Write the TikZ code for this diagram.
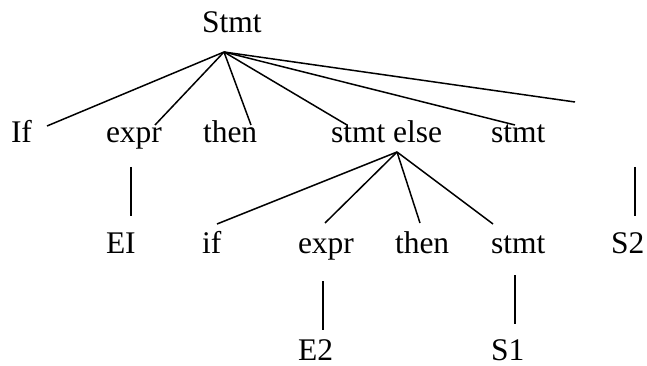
\documentclass[tikz,border=0pt]{standalone}
\usepackage{fontspec}
\setmainfont{Liberation Serif}
\begin{document}
\begin{tikzpicture}[x=1pt,y=-1pt,
  lbl/.style={anchor=base west,inner sep=0pt,outer sep=0pt,font=\fontsize{31.5}{36}\selectfont},
  edge/.style={line width=1.5pt,black}]
\useasboundingbox (0,0) rectangle (647,366);
% labels
\node[lbl] (root) at (202,33) {Stmt};
\node[lbl] (If) at (11,143) {If};
\node[lbl] (expr1) at (106,143) {expr};
\node[lbl] (then1) at (203,143) {then};
\node[lbl] (stmtelse) at (331,143) {stmt else};
\node[lbl] (stmt2) at (491,143) {stmt};
\node[lbl] (EI) at (106,253) {EI};
\node[lbl] (if2) at (202,253) {if};
\node[lbl] (expr2) at (298,253) {expr};
\node[lbl] (then2) at (395,253) {then};
\node[lbl] (stmt3) at (491,253) {stmt};
\node[lbl] (S2) at (611,253) {S2};
\node[lbl] (E2) at (298,360) {E2};
\node[lbl] (S1) at (491,360) {S1};
% attachment points
\coordinate (A) at (224,52);
\coordinate (aIf) at (47,126);
\coordinate (aExpr1) at (155,125);
\coordinate (aThen1) at (251,125);
\coordinate (aStmt1) at (347,125);
\coordinate (aStmt2) at (515,125);
\coordinate (aFree) at (575,102);
\coordinate (B) at (397,152);
\coordinate (bIf) at (217,224);
\coordinate (bExpr) at (325,223);
\coordinate (bThen) at (420,223);
\coordinate (bStmt) at (493,224);
\coordinate (v1t) at (131,167); \coordinate (v1b) at (131,216);
\coordinate (v2t) at (323,281); \coordinate (v2b) at (323,330);
\coordinate (v3t) at (515,275); \coordinate (v3b) at (515,324);
\coordinate (v4t) at (635,167); \coordinate (v4b) at (635,216);
% edges
\draw[edge] (A) -- (aIf);
\draw[edge] (A) -- (aExpr1);
\draw[edge] (A) -- (aThen1);
\draw[edge] (A) -- (aStmt1);
\draw[edge] (A) -- (aStmt2);
\draw[edge] (A) -- (aFree);
\draw[edge] (B) -- (bIf);
\draw[edge] (B) -- (bExpr);
\draw[edge] (B) -- (bThen);
\draw[edge] (B) -- (bStmt);
\draw[edge] (v1t) -- (v1b);
\draw[edge] (v2t) -- (v2b);
\draw[edge] (v3t) -- (v3b);
\draw[edge] (v4t) -- (v4b);
\end{tikzpicture}
\end{document}
